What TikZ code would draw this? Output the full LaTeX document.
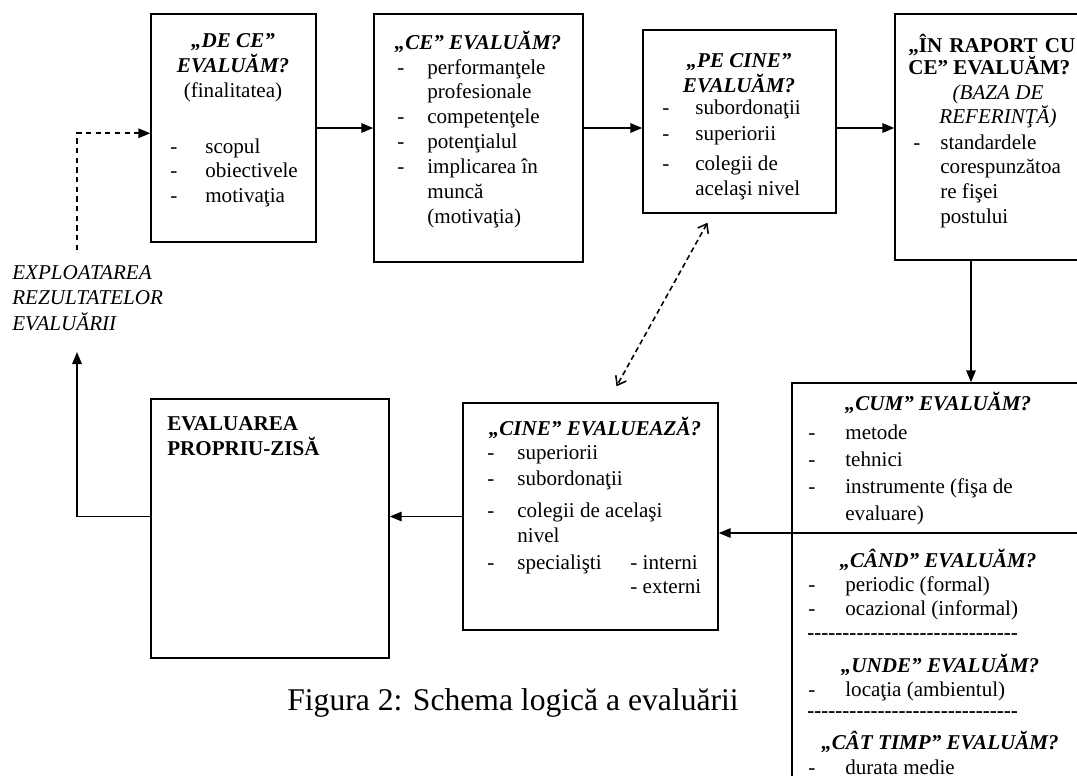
\documentclass[tikz,border=0pt]{standalone}
\usepackage{fontspec}
\setmainfont{Liberation Serif}
\usetikzlibrary{arrows.meta,positioning,fit,calc}

\newcommand{\dsh}[1][0.6cm]{\makebox[#1][l]{-}}
\newcommand{\ind}[1][0.6cm]{\hspace*{#1}}
\newcommand{\hyphenrow}{\foreach \k in {1,...,30}{-}}
\newcommand{\lft}[1]{\begin{tabular}[t]{@{}l@{}}#1\end{tabular}}
\newcommand{\ctr}[1]{\begin{tabular}[t]{@{}c@{}}#1\end{tabular}}

\begin{document}
\begin{tikzpicture}[
    x=0.02cm, y=-0.02cm,
    box/.style={draw=black, line width=0.8pt, inner sep=0pt},
    head/.style={font=\fontsize{12}{13.2}\selectfont\bfseries\itshape, inner sep=0pt, anchor=base},
    list/.style={font=\fontsize{12}{14.2}\selectfont, inner sep=0pt, anchor=base west},
    arr/.style={-{Triangle[length=2.4mm,width=1.9mm]}, line width=0.9pt},
    feedback/.style={arr, dash pattern=on 3pt off 2.5pt},
    both/.style={{Straight Barb[length=1.6mm,width=2.4mm]}-{Straight Barb[length=1.6mm,width=2.4mm]}, dash pattern=on 3pt off 2pt, line width=0.9pt},
]
\clip (0,0) rectangle (1077,775);

% boxes
\node[box, fit={(151,14) (316,242)}] (deCe) {};
\node[box, fit={(374,14) (583,262)}] (ceEval) {};
\node[box, fit={(643,30) (836,213)}] (peCine) {};
\node[box, fit={(895,14) (1100,260)}] (raport) {};
\node[box, fit={(792,383) (1150,830)}] (cum) {};
\node[box, fit={(463,403) (718,630)}] (cine) {};
\node[box, fit={(151,399) (389,658)}] (propriu) {};

% DE CE
\node[head] (deCeHead) at (233,47) {\ctr{„DE CE”\\EVALUĂM?}};
\node[list, anchor=base] (deCeSub) at (233,97) {(finalitatea)};
\node[list] (deCeList) at (170,153) {\lft{\dsh[0.7cm]scopul\\\dsh[0.7cm]obiectivele\\\dsh[0.7cm]motivaţia}};

% CE
\node[head] (ceHead) at (478,49) {„CE” EVALUĂM?};
\node[list] (ceList) at (397,74) {\lft{\dsh performanţele\\\ind profesionale\\\dsh competenţele\\\dsh potenţialul\\\dsh implicarea în\\\ind muncă\\\ind (motivaţia)}};

% PE CINE
\node[head] (peCineHead) at (739,67) {\ctr{„PE CINE”\\EVALUĂM?}};
\node[list] (peCineList) at (662,114) {\lft{\dsh[0.66cm]subordonaţii\\[1pt]\dsh[0.66cm]superiorii\\[3pt]\dsh[0.66cm]colegii de\\\ind[0.66cm]acelaşi nivel}};

% IN RAPORT CU CE
\node[head, anchor=base west] (raportHead) at (908,52) {\upshape\makebox[3.34cm][s]{„ÎN RAPORT CU}};
\node[head, anchor=base west] (raportHead2) at (908,74) {\upshape CE” EVALUĂM?};
\node[head, font=\fontsize{12}{13.2}\selectfont\itshape] (baza) at (998,99) {\ctr{(BAZA DE\\REFERINŢĂ)}};
\node[list] (raportList) at (913,149) {\lft{\dsh[0.54cm]standardele\\\ind[0.54cm]corespunzătoa\\\ind[0.54cm]re fişei\\\ind[0.54cm]postului}};

% CUM / CAND / UNDE / CAT TIMP
\node[head] (cumHead) at (938,410) {„CUM” EVALUĂM?};
\node[list, font=\fontsize{12}{15.4}\selectfont] (cumList) at (808,439) {\lft{\dsh[0.74cm]metode\\\dsh[0.74cm]tehnici\\\dsh[0.74cm]instrumente (fişa de\\\ind[0.74cm]evaluare)}};
\node[head] (candHead) at (938,567) {„CÂND” EVALUĂM?};
\node[list] (candList) at (808,591) {\lft{\dsh[0.74cm]periodic (formal)\\\dsh[0.74cm]ocazional (informal)}};
\node[list, font=\fontsize{12}{14.2}\selectfont\bfseries, anchor=west] (row1) at (807,637) {\hyphenrow};
\node[head] (undeHead) at (940,672) {„UNDE” EVALUĂM?};
\node[list] (undeList) at (808,696) {\dsh[0.74cm]locaţia (ambientul)};
\node[list, font=\fontsize{12}{14.2}\selectfont\bfseries, anchor=west] (row2) at (807,715) {\hyphenrow};
\node[head] (catHead) at (940,749) {„CÂT TIMP” EVALUĂM?};
\node[list] (catList) at (808,774) {\dsh[0.74cm]durata medie};

% CINE
\node[head] (cineHead) at (595,435) {„CINE” EVALUEAZĂ?};
\node[list] (cineList) at (487,459) {\lft{\dsh superiorii\\[1pt]\dsh subordonaţii\\[4pt]\dsh colegii de acelaşi\\\ind nivel\\[1pt]\dsh specialişti}};
\node[list] (cineSpec) at (630,569) {\lft{- interni\\- externi}};

% EVALUAREA PROPRIU-ZISA
\node[list, font=\fontsize{12}{14.2}\selectfont\bfseries] (propriuText) at (167,430) {\lft{EVALUAREA\\PROPRIU-ZISĂ}};

% EXPLOATAREA
\node[list, font=\fontsize{12}{14.6}\selectfont\itshape] (exploat) at (12,279) {\lft{EXPLOATAREA\\REZULTATELOR\\EVALUĂRII}};

% caption
\node[list, font=\fontsize{18}{20}\selectfont, anchor=base] (caption) at (513,710) {Figura 2: Schema logică a evaluării};

% connectors
\coordinate (fbStart) at (77,250);
\coordinate (fbEnd) at (77,352);
\coordinate (sepR) at (1150,533);
\draw[arr] (deCe.east) -- (deCe.east -| ceEval.west);
\draw[arr] (ceEval.east |- deCe.east) -- (deCe.east -| peCine.west);
\draw[arr] (peCine.east |- deCe.east) -- (deCe.east -| raport.west);
\draw[arr] (raport.south -| cum.north) -- (cum.north);
\draw[arr] (sepR) -- (sepR -| cine.east);
\draw[arr] (cine.west) -- (cine.west -| propriu.east);
\draw[arr] (propriu.west |- cine.west) -| (fbEnd);
\draw[feedback] (fbStart) |- ([yshift=-3pt]deCe.west);
\draw[both] ($(peCine.south)+(-32,9)$) -- ($(cine.north)+(26,-16)$);
\end{tikzpicture}
\end{document}
